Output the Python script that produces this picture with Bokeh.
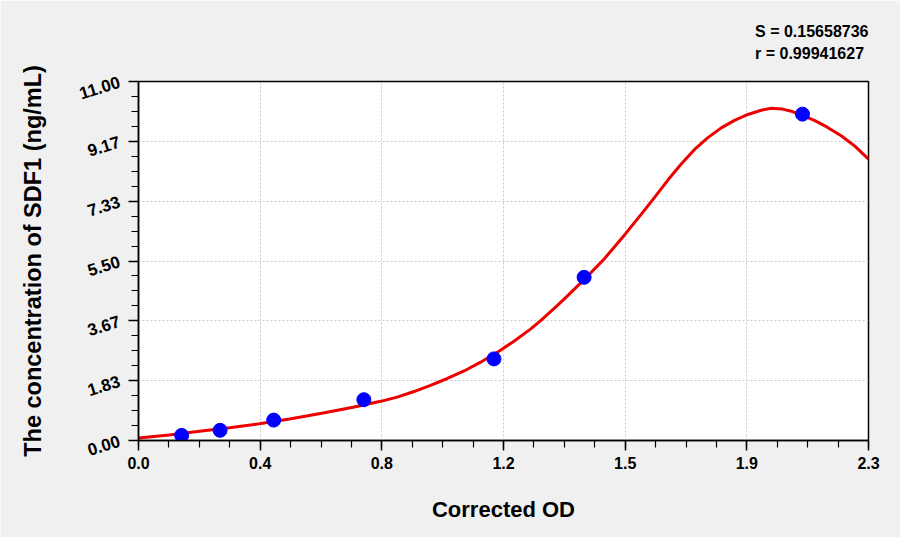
from bokeh.plotting import figure
from bokeh.models import Range1d, FixedTicker, Title
from bokeh.embed import file_html
from bokeh.resources import INLINE

# ---- data ----
od_points = [0.136, 0.257, 0.426, 0.710, 1.120, 1.404, 2.092]
conc_points = [0.156, 0.312, 0.625, 1.25, 2.5, 5.0, 10.0]

curve_od = [0.000, 0.097, 0.192, 0.287, 0.381, 0.476, 0.582, 0.676, 0.763,
            0.815, 0.868, 0.920, 0.973, 1.026, 1.078, 1.130, 1.183, 1.236,
            1.268, 1.320, 1.341, 1.404, 1.468, 1.534, 1.583, 1.626, 1.668,
            1.710, 1.752, 1.794, 1.836, 1.878, 1.920, 1.962, 1.994, 2.026,
            2.060, 2.092, 2.131, 2.170, 2.215, 2.257, 2.300]
curve_conc = [0.08, 0.17, 0.28, 0.39, 0.51, 0.66, 0.84, 1.02, 1.20,
              1.33, 1.50, 1.69, 1.90, 2.13, 2.40, 2.70, 3.04, 3.42,
              3.68, 4.14, 4.33, 4.93, 5.57, 6.33, 6.92, 7.45, 7.98,
              8.47, 8.92, 9.28, 9.58, 9.81, 9.99, 10.12, 10.18, 10.16,
              10.08, 9.96, 9.80, 9.60, 9.33, 9.02, 8.62]

x_tick_vals = [0.0, 2.3 / 6, 2 * 2.3 / 6, 3 * 2.3 / 6, 4 * 2.3 / 6, 5 * 2.3 / 6, 2.3]
x_tick_labels = ["0.0", "0.4", "0.8", "1.2", "1.5", "1.9", "2.3"]
y_tick_vals = [0.0, 11 / 6, 2 * 11 / 6, 3 * 11 / 6, 4 * 11 / 6, 5 * 11 / 6, 11.0]
y_tick_labels = ["0.00", "1.83", "3.67", "5.50", "7.33", "9.17", "11.00"]

stat_lines = ["S = 0.15658736", "r = 0.99941627"]

FONT = "Liberation Sans"

p = figure(width=900, height=537, output_backend="svg", toolbar_location=None,
           x_range=Range1d(0, 2.3), y_range=Range1d(0, 11),
           min_border_left=138, min_border_right=32, min_border_top=81,
           min_border_bottom=97)
p.frame_width = 730
p.frame_height = 359

p.background_fill_color = "white"
p.border_fill_color = "#f0f0f0"
p.outline_line_color = "black"
p.outline_line_width = 1.5

# axes
p.xaxis.ticker = FixedTicker(ticks=x_tick_vals,
                             minor_ticks=[i * 2.3 / 24 for i in range(25)])
p.xaxis.major_label_overrides = {v: l for v, l in zip(x_tick_vals, x_tick_labels)}
p.yaxis.ticker = FixedTicker(ticks=y_tick_vals,
                             minor_ticks=[i * 11 / 24 for i in range(25)])
p.yaxis.major_label_overrides = {v: l for v, l in zip(y_tick_vals, y_tick_labels)}

for ax in (p.xaxis, p.yaxis):
    ax.axis_line_color = "black"
    ax.axis_line_width = 1.5
    ax.major_tick_line_color = "black"
    ax.minor_tick_line_color = "black"
    ax.major_tick_line_width = 1.5
    ax.minor_tick_line_width = 1.2
    ax.major_tick_out = 10
    ax.major_tick_in = 0
    ax.minor_tick_out = 7
    ax.minor_tick_in = 0
    ax.major_label_text_font = FONT
    ax.major_label_text_font_style = "bold"
    ax.major_label_text_color = "black"
    ax.axis_label_text_font = FONT
    ax.axis_label_text_font_style = "bold"
    ax.axis_label_text_font_size = "22px"
    ax.axis_label_text_color = "black"

p.xaxis.major_label_text_font_size = "16px"
p.xaxis.major_label_standoff = 6
p.xaxis.axis_label = "Corrected OD"
p.xaxis.axis_label_standoff = 25

p.yaxis.major_label_text_font_size = "17px"
p.yaxis.major_label_orientation = 0.3
p.yaxis.major_label_standoff = 9
p.yaxis.axis_label = "The concentration of SDF1 (ng/mL)"
p.yaxis.axis_label_text_font_size = "23.5px"
p.yaxis.axis_label_standoff = 27

# grid
p.xgrid.ticker = FixedTicker(ticks=x_tick_vals)
p.ygrid.ticker = FixedTicker(ticks=y_tick_vals)
for g in (p.xgrid, p.ygrid):
    g.grid_line_color = "#c8c8c8"
    g.grid_line_dash = "2 2"
    g.grid_line_width = 1

# fitted curve and standards
p.line(curve_od, curve_conc, line_color="#ee0000", line_width=3)
p.scatter(od_points, conc_points, size=14, marker="circle",
          fill_color="#0000ff", line_color="#0000ff")

# statistics text (above the frame, right aligned)
p.add_layout(Title(text="\n".join(stat_lines), align="right", text_font=FONT,
                   text_font_style="bold", text_font_size="16px",
                   text_line_height=1.35, text_color="black", standoff=38),
             "above")

open("out.html", "w").write(file_html(p, INLINE))
